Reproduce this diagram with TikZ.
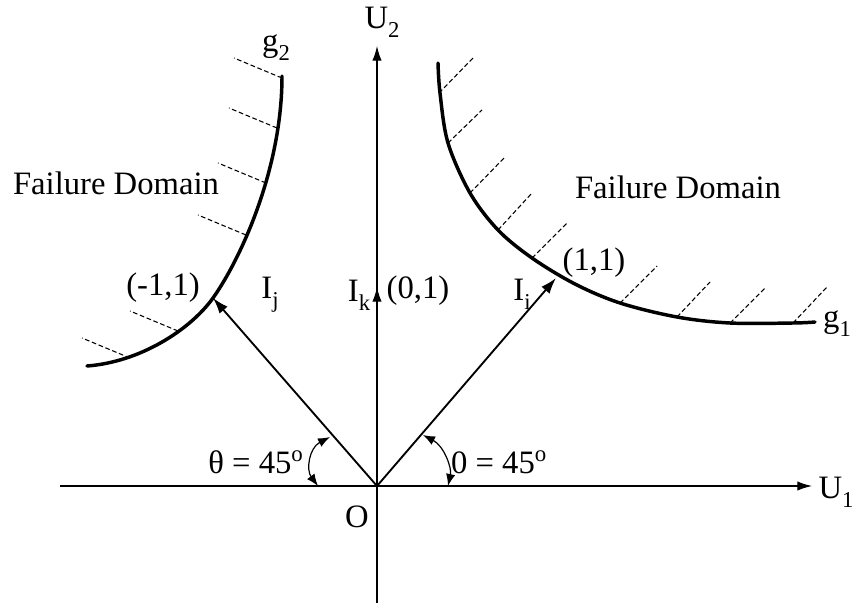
\documentclass[tikz,border=0pt]{standalone}
\usepackage{fontspec}
\setmainfont{Liberation Serif}
\usetikzlibrary{arrows.meta}
\newcommand\sbs[1]{\raisebox{-0.6ex}{\fontsize{17}{17}\selectfont #1}}
\begin{document}
\begin{tikzpicture}[x=0.75pt,y=-0.75pt,
  lbl/.style={inner sep=0pt,font=\fontsize{24.5}{28}\selectfont},
  axis/.style={line width=0.9pt,-{Latex[length=11pt,width=7pt]}},
  vec/.style={line width=1.4pt,-{Latex[length=12pt,width=8pt]}},
  lim/.style={line width=2.6pt,line cap=round},
  hatch/.style={line width=0.8pt,dash pattern=on 3.5pt off 2pt},
  ang/.style={line width=0.9pt,{Latex[length=9pt,width=7pt]}-{Latex[length=9pt,width=7pt]}}]
\useasboundingbox (0,0) rectangle (857,607);
% axes
\coordinate (O) at (377,486);
\coordinate (Xs) at (60,486);
\coordinate (Xe) at (812,486);
\coordinate (Ys) at (377,603);
\coordinate (Ye) at (377,46);
\draw[axis] (Xs) -- (Xe);
\draw[axis] (Ys) -- (Ye);
\node[lbl] (U1) at (836,492) {U\sbs{1}};
\node[lbl] (U2) at (382,22) {U\sbs{2}};
\node[lbl] (Olab) at (357,517) {O};
% limit state g2
\draw[lim] (282,76) .. controls (282,170) and (240,260) .. (213,298)
                    .. controls (190,330) and (140,362) .. (87,366);
\foreach \a/\b in {282/78,277/128,266/183,246/235,178/331,130/358}
  \draw[hatch] (\a,\b) -- ++(-48,-20);
\node[lbl] (g2) at (276,48) {g\sbs{2}};
% limit state g1
\draw[lim] plot[smooth,tension=0.55] coordinates {(438,63) (440,93) (448,143) (470,193) (498,230) (532,258) (575,284) (620,303) (677,317) (730,323) (793,323) (815,322)};
\foreach \a/\b/\c/\d in {439/93/473/58,448/143/482/110,470/193/505/157,498/230/532/193,532/258/567/223,620/303/657/266,677/317/710/282,730/323/765/288,793/323/827/287}
  \draw[hatch] (\a,\b) -- (\c,\d);
\node[lbl] (g1) at (837,324) {g\sbs{1}};
% failure domains
\node[lbl] (FDl) at (116,183) {Failure Domain};
\node[lbl] (FDr) at (678,187) {Failure Domain};
% vectors
\coordinate (Pi) at (556,278);
\coordinate (Pj) at (213,298);
\coordinate (Pk) at (377,287);
\coordinate (Pk0) at (377,330);
\draw[vec] (O) -- (Pi);
\draw[vec] (O) -- (Pj);
\draw[axis] (Pk0) -- (Pk);
\node[lbl] (Ii) at (522,294) {I\sbs{i}};
\node[lbl] (Ij) at (270,295) {I\sbs{j}};
\node[lbl] (Ik) at (359,295) {I\sbs{k}};
\node[lbl] (L01) at (418,291) {(0,1)};
\node[lbl] (L11) at (594,263) {(1,1)};
\node[lbl] (Lm11) at (163,288) {(-1,1)};
% angles
\draw[ang] (330,437) .. controls (309,448) and (306,470) .. (318,486);
\draw[ang] (423,435) .. controls (444,446) and (452,468) .. (448,486);
\node[lbl] (thl) at (256,462) {θ = 45\textsuperscript{o}};
\node[lbl] (thr) at (499,462) {0 = 45\textsuperscript{o}};
\end{tikzpicture}
\end{document}
